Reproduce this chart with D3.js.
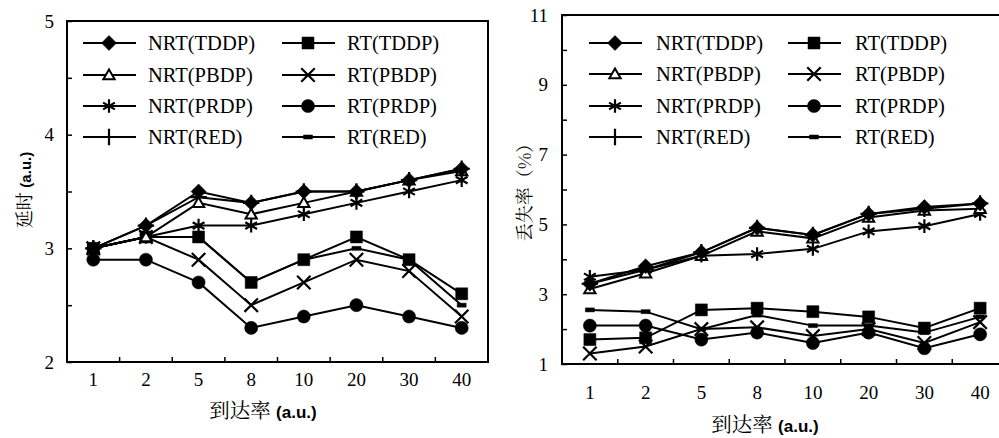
<!DOCTYPE html>
<html>
<head>
<meta charset="utf-8">
<script src="https://cdn.jsdelivr.net/npm/d3@7"></script>
<style>
  html, body { margin: 0; padding: 0; background: #fff; }
  svg { display: block; }
</style>
</head>
<body>
<svg id="chart" width="999" height="438"></svg>
<script>
var categories = ['1', '2', '5', '8', '10', '20', '30', '40'];

// delay (a.u.)
var delayNrtTddp = [3.0, 3.2, 3.5, 3.4, 3.5, 3.5, 3.6, 3.7];
var delayNrtPbdp = [3.0, 3.1, 3.4, 3.3, 3.4, 3.5, 3.6, 3.68];
var delayNrtPrdp = [3.0, 3.1, 3.2, 3.2, 3.3, 3.4, 3.5, 3.6];
var delayNrtRed  = [3.0, 3.2, 3.45, 3.4, 3.5, 3.5, 3.6, 3.7];
var delayRtTddp  = [3.0, 3.1, 3.1, 2.7, 2.9, 3.1, 2.9, 2.6];
var delayRtPbdp  = [3.0, 3.1, 2.9, 2.5, 2.7, 2.9, 2.8, 2.4];
var delayRtPrdp  = [2.9, 2.9, 2.7, 2.3, 2.4, 2.5, 2.4, 2.3];
var delayRtRed   = [3.0, 3.1, 3.1, 2.7, 2.9, 3.0, 2.9, 2.5];

// loss rate (%)
var lossNrtTddp = [3.3, 3.8, 4.2, 4.9, 4.7, 5.3, 5.5, 5.6];
var lossNrtPbdp = [3.15, 3.6, 4.1, 4.8, 4.6, 5.2, 5.4, 5.45];
var lossNrtPrdp = [3.5, 3.7, 4.1, 4.15, 4.3, 4.8, 4.95, 5.3];
var lossNrtRed  = [3.3, 3.7, 4.2, 4.9, 4.7, 5.3, 5.45, 5.6];
var lossRtTddp  = [1.7, 1.75, 2.55, 2.6, 2.5, 2.35, 2.03, 2.6];
var lossRtPbdp  = [1.3, 1.5, 2.0, 2.05, 1.8, 2.0, 1.6, 2.2];
var lossRtPrdp  = [2.1, 2.1, 1.7, 1.9, 1.6, 1.9, 1.45, 1.85];
var lossRtRed   = [2.55, 2.5, 2.0, 2.4, 2.1, 2.1, 1.9, 2.35];

var seriesNames = ['NRT(TDDP)', 'RT(TDDP)', 'NRT(PBDP)', 'RT(PBDP)',
                   'NRT(PRDP)', 'RT(PRDP)', 'NRT(RED)', 'RT(RED)'];
var seriesMarks = ['diamond', 'square', 'triangle', 'x',
                   'asterisk', 'circle', 'plus', 'dash'];

var delaySeries = [delayNrtTddp, delayRtTddp, delayNrtPbdp, delayRtPbdp,
                   delayNrtPrdp, delayRtPrdp, delayNrtRed, delayRtRed];
var lossSeries = [lossNrtTddp, lossRtTddp, lossNrtPbdp, lossRtPbdp,
                  lossNrtPrdp, lossRtPrdp, lossNrtRed, lossRtRed];

// single family names only, lists did not resolve here
var serif = 'Liberation Serif';
var cjk = 'Noto Serif CJK SC';
var sans = 'Liberation Sans';

var svg = d3.select('#chart');

// square turned 45 degrees, as wide as it is tall
var diamondSymbol = {
  draw: function (ctx) {
    var r = 7.5;
    ctx.moveTo(0, -r);
    ctx.lineTo(r, 0);
    ctx.lineTo(0, r);
    ctx.lineTo(-r, 0);
    ctx.closePath();
  }
};

var dashSymbol = {
  draw: function (ctx) {
    ctx.rect(-4.5, -2, 9, 4);
  }
};

function markerPath(type) {
  if (type === 'diamond') return d3.symbol(diamondSymbol)();
  if (type === 'square') return d3.symbol(d3.symbolSquare, 144)();
  if (type === 'triangle') return d3.symbol(d3.symbolTriangle, 55)();
  if (type === 'x') return d3.symbol(d3.symbolX, 120)();
  if (type === 'asterisk') return d3.symbol(d3.symbolAsterisk, 130)();
  if (type === 'circle') return d3.symbol(d3.symbolCircle, 135)();
  if (type === 'plus') return d3.symbol(d3.symbolPlus, 90)();
  return d3.symbol(dashSymbol)();
}

function drawMarker(g, type, x, y) {
  var open = (type === 'triangle');
  var stroked = (type === 'x' || type === 'asterisk' || type === 'plus');
  g.append('path')
    .attr('transform', 'translate(' + x + ',' + (type === 'triangle' ? y + 1 : y) + ')')
    .attr('d', markerPath(type))
    .attr('fill', open ? '#fff' : (stroked ? 'none' : '#000'))
    .attr('stroke', '#000')
    .attr('stroke-width', open ? 2 : (stroked ? 2.2 : 0.5));
}

function drawChart(opt) {
  var g = svg.append('g');

  var x = d3.scaleBand()
    .domain(categories)
    .range([opt.left, opt.right]);

  var y = d3.scaleLinear()
    .domain(opt.yDomain)
    .range([opt.bottom, opt.top]);

  // frame
  g.append('rect')
    .attr('x', opt.left)
    .attr('y', opt.top)
    .attr('width', opt.right - opt.left)
    .attr('height', opt.bottom - opt.top)
    .attr('fill', 'none')
    .attr('stroke', '#000')
    .attr('stroke-width', 2);

  // y axis with inward ticks
  var yAxis = d3.axisLeft(y)
    .tickValues(opt.yTicks)
    .tickSize(-5)
    .tickPadding(opt.yPad)
    .tickFormat(function (d) { return opt.yLabels.indexOf(d) >= 0 ? d : ''; });

  var ya = g.append('g')
    .attr('transform', 'translate(' + opt.left + ',0)')
    .call(yAxis)
    .attr('font-family', serif)
    .attr('font-size', 19);
  ya.select('.domain').remove();
  ya.selectAll('line').attr('stroke-width', 1.5);
  ya.selectAll('text').attr('fill', '#000');

  // x axis labels at band centres, ticks between bands
  var xAxis = d3.axisBottom(x).tickSize(0).tickPadding(opt.xPad);
  var xa = g.append('g')
    .attr('transform', 'translate(0,' + opt.bottom + ')')
    .call(xAxis)
    .attr('font-family', serif)
    .attr('font-size', 19);
  xa.select('.domain').remove();
  xa.selectAll('text').attr('fill', '#000');

  categories.slice(0, -1).forEach(function (c) {
    var tx = x(c) + x.bandwidth();
    g.append('line')
      .attr('x1', tx).attr('x2', tx)
      .attr('y1', opt.bottom).attr('y2', opt.bottom - 5)
      .attr('stroke', '#000')
      .attr('stroke-width', 1.5);
  });

  var line = d3.line()
    .x(function (d, i) { return x(categories[i]) + x.bandwidth() / 2; })
    .y(function (d) { return y(d); });

  // series, drawn in reverse so the first entries end up on top
  var order = [7, 5, 3, 1, 6, 4, 2, 0];
  order.forEach(function (k) {
    var vals = opt.series[k];
    g.append('path')
      .datum(vals)
      .attr('d', line)
      .attr('fill', 'none')
      .attr('stroke', '#000')
      .attr('stroke-width', 2);
    vals.forEach(function (v, i) {
      drawMarker(g, seriesMarks[k], x(categories[i]) + x.bandwidth() / 2, y(v));
    });
  });

  // legend
  var lg = g.append('g');
  seriesNames.forEach(function (name, i) {
    var col = i % 2;
    var row = Math.floor(i / 2);
    var ly = opt.legendRows[row];
    var lx = opt.legendCols[col];
    lg.append('line')
      .attr('x1', lx).attr('x2', lx + 53)
      .attr('y1', ly).attr('y2', ly)
      .attr('stroke', '#000')
      .attr('stroke-width', 2);
    drawMarker(lg, seriesMarks[i], lx + 26, ly);
    lg.append('text')
      .attr('x', lx + opt.legendText)
      .attr('y', ly)
      .attr('dy', '0.35em')
      .attr('font-family', serif)
      .attr('font-size', 20.5)
      .attr('fill', '#000')
      .text(name);
  });

  // x title
  var xt = g.append('text')
    .attr('x', opt.xTitle[0])
    .attr('y', opt.xTitle[1])
    .attr('text-anchor', 'middle')
    .attr('fill', '#000');
  xt.append('tspan')
    .attr('font-family', cjk)
    .attr('font-size', 20.5)
    .text('到达率 ');
  xt.append('tspan')
    .attr('font-family', sans)
    .attr('font-weight', 'bold')
    .attr('font-size', 17)
    .text('(a.u.)');

  // y title
  var yt = g.append('text')
    .attr('transform', 'translate(' + opt.yTitle[0] + ',' + opt.yTitle[1] + ') rotate(-90)')
    .attr('text-anchor', 'middle')
    .attr('fill', '#000');
  yt.append('tspan')
    .attr('font-family', cjk)
    .attr('font-size', 18)
    .text(opt.yTitleText);
  if (opt.yTitleUnit) {
    yt.append('tspan')
      .attr('font-family', sans)
      .attr('font-weight', 'bold')
      .attr('font-size', 15)
      .text(opt.yTitleUnit);
  }
}

drawChart({
  left: 67, right: 488, top: 21, bottom: 362,
  yDomain: [2, 5],
  yTicks: [2, 2.5, 3, 3.5, 4, 4.5, 5],
  yLabels: [2, 3, 4, 5],
  yPad: 13,
  xPad: 11,
  series: delaySeries,
  legendRows: [43, 75, 106, 137],
  legendCols: [83, 282],
  legendText: 65,
  xTitle: [263, 418],
  yTitle: [31, 190],
  yTitleText: '延时 ',
  yTitleUnit: '(a.u.)'
});

drawChart({
  left: 562, right: 1008, top: 15, bottom: 364,
  yDomain: [1, 11],
  yTicks: [1, 2, 3, 4, 5, 6, 7, 8, 9, 10, 11],
  yLabels: [1, 3, 5, 7, 9, 11],
  yPad: 14,
  xPad: 22,
  series: lossSeries,
  legendRows: [43, 74, 106, 137],
  legendCols: [589, 788],
  legendText: 67,
  xTitle: [765, 432],
  yTitle: [531, 188],
  yTitleText: '丢失率（%）',
  yTitleUnit: ''
});
</script>
</body>
</html>
